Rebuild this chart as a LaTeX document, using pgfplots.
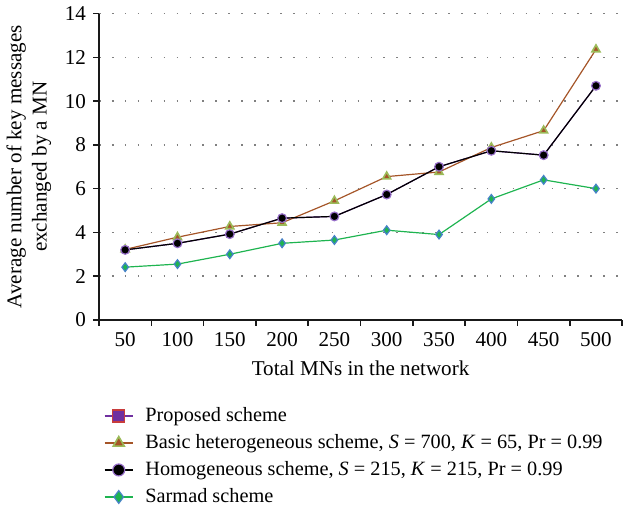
\documentclass[border=0pt]{standalone}
\usepackage{fontspec}
\setmainfont{Liberation Serif}
\usepackage{pgfplots}
\pgfplotsset{compat=1.18}
\definecolor{basicbrown}{RGB}{165,85,40}
\definecolor{basicgreen}{RGB}{155,187,89}
\definecolor{homoedge}{RGB}{150,110,200}
\definecolor{sargreen}{RGB}{30,180,80}
\definecolor{sarblue}{RGB}{70,130,200}
\definecolor{proppurple}{RGB}{112,48,160}
\definecolor{propred}{RGB}{200,60,60}
\newcommand\ff{\fontsize{10.6pt}{12.7pt}\selectfont}
\newcommand\lf{\fontsize{10.2pt}{12.3pt}\selectfont}

\begin{document}
\begin{tikzpicture}
\begin{axis}[
    scale only axis, width=263pt, height=154pt,
    xmin=-0.5, xmax=9.5, ymin=0, ymax=14,
    xtick={0,...,9}, xticklabels={50,100,150,200,250,300,350,400,450,500},
    minor xtick={-0.5,0.5,...,9.5},
    major x tick style={draw=none},
    ytick={0,2,...,14},
    tick align=outside, tick pos=left,
    major tick length=3pt, minor tick length=3pt,
    tick style={gray!20!black, line width=0.8pt},
    axis x line*=bottom, axis y line*=left,
    axis line style={-, gray!20!black, line width=0.9pt},
    ymajorgrids, grid style={gray, line width=0.8pt, dash pattern=on 0.8pt off 5.7pt},
    /pgf/number format/assume math mode=true,
    ticklabel style={font=\ff},
    label style={font=\ff},
    xlabel={Total MNs in the network},
    ylabel={Average number of key messages\\exchanged by a MN},
    ylabel style={align=center},
    legend cell align=left,
    legend image code/.code={\draw[mark repeat=2,mark phase=2,#1]
        plot coordinates {(0cm,0cm) (0.25cm,0cm) (0.5cm,0cm)};},
    legend style={at={(0.005,-0.265)}, anchor=north west, draw=none, fill=none,
        font=\lf, row sep=1pt, column sep=4pt, inner sep=1pt},
]
\addplot[proppurple, line width=0.6pt, mark=square*, mark size=1.4pt,
    mark options={fill=proppurple, draw=propred},
    legend image post style={mark size=3pt}] coordinates {
(0,3.2)(1,3.5)(2,3.92)(3,4.65)(4,4.73)(5,5.73)(6,7.0)(7,7.73)(8,7.53)(9,10.7)
};
\addlegendentry{Proposed scheme}
\addplot[basicbrown, line width=0.6pt, mark=triangle*, mark size=2.3pt,
    mark options={fill=basicbrown, draw=basicgreen, line width=0.8pt},
    legend image post style={mark size=3.2pt}] coordinates {
(0,3.22)(1,3.78)(2,4.27)(3,4.44)(4,5.44)(5,6.55)(6,6.76)(7,7.88)(8,8.65)(9,12.36)
};
\addlegendentry{Basic heterogeneous scheme, \textit{S} = 700, \textit{K} = 65, Pr = 0.99}
\addplot[black, line width=0.6pt, mark=*, mark size=2.2pt,
    mark options={fill=black, draw=homoedge, line width=0.6pt},
    legend image post style={mark size=3pt}] coordinates {
(0,3.2)(1,3.5)(2,3.92)(3,4.65)(4,4.73)(5,5.73)(6,7.0)(7,7.73)(8,7.53)(9,10.7)
};
\addlegendentry{Homogeneous scheme, \textit{S} = 215, \textit{K} = 215, Pr = 0.99}
\addplot[sargreen, line width=0.6pt, mark=diamond*, mark size=2.2pt,
    mark options={fill=sargreen, draw=sarblue, line width=0.6pt},
    legend image post style={mark size=3.2pt}] coordinates {
(0,2.41)(1,2.55)(2,3.0)(3,3.5)(4,3.65)(5,4.1)(6,3.9)(7,5.53)(8,6.4)(9,6.0)
};
\addlegendentry{Sarmad scheme}
\end{axis}
\end{tikzpicture}
\end{document}
